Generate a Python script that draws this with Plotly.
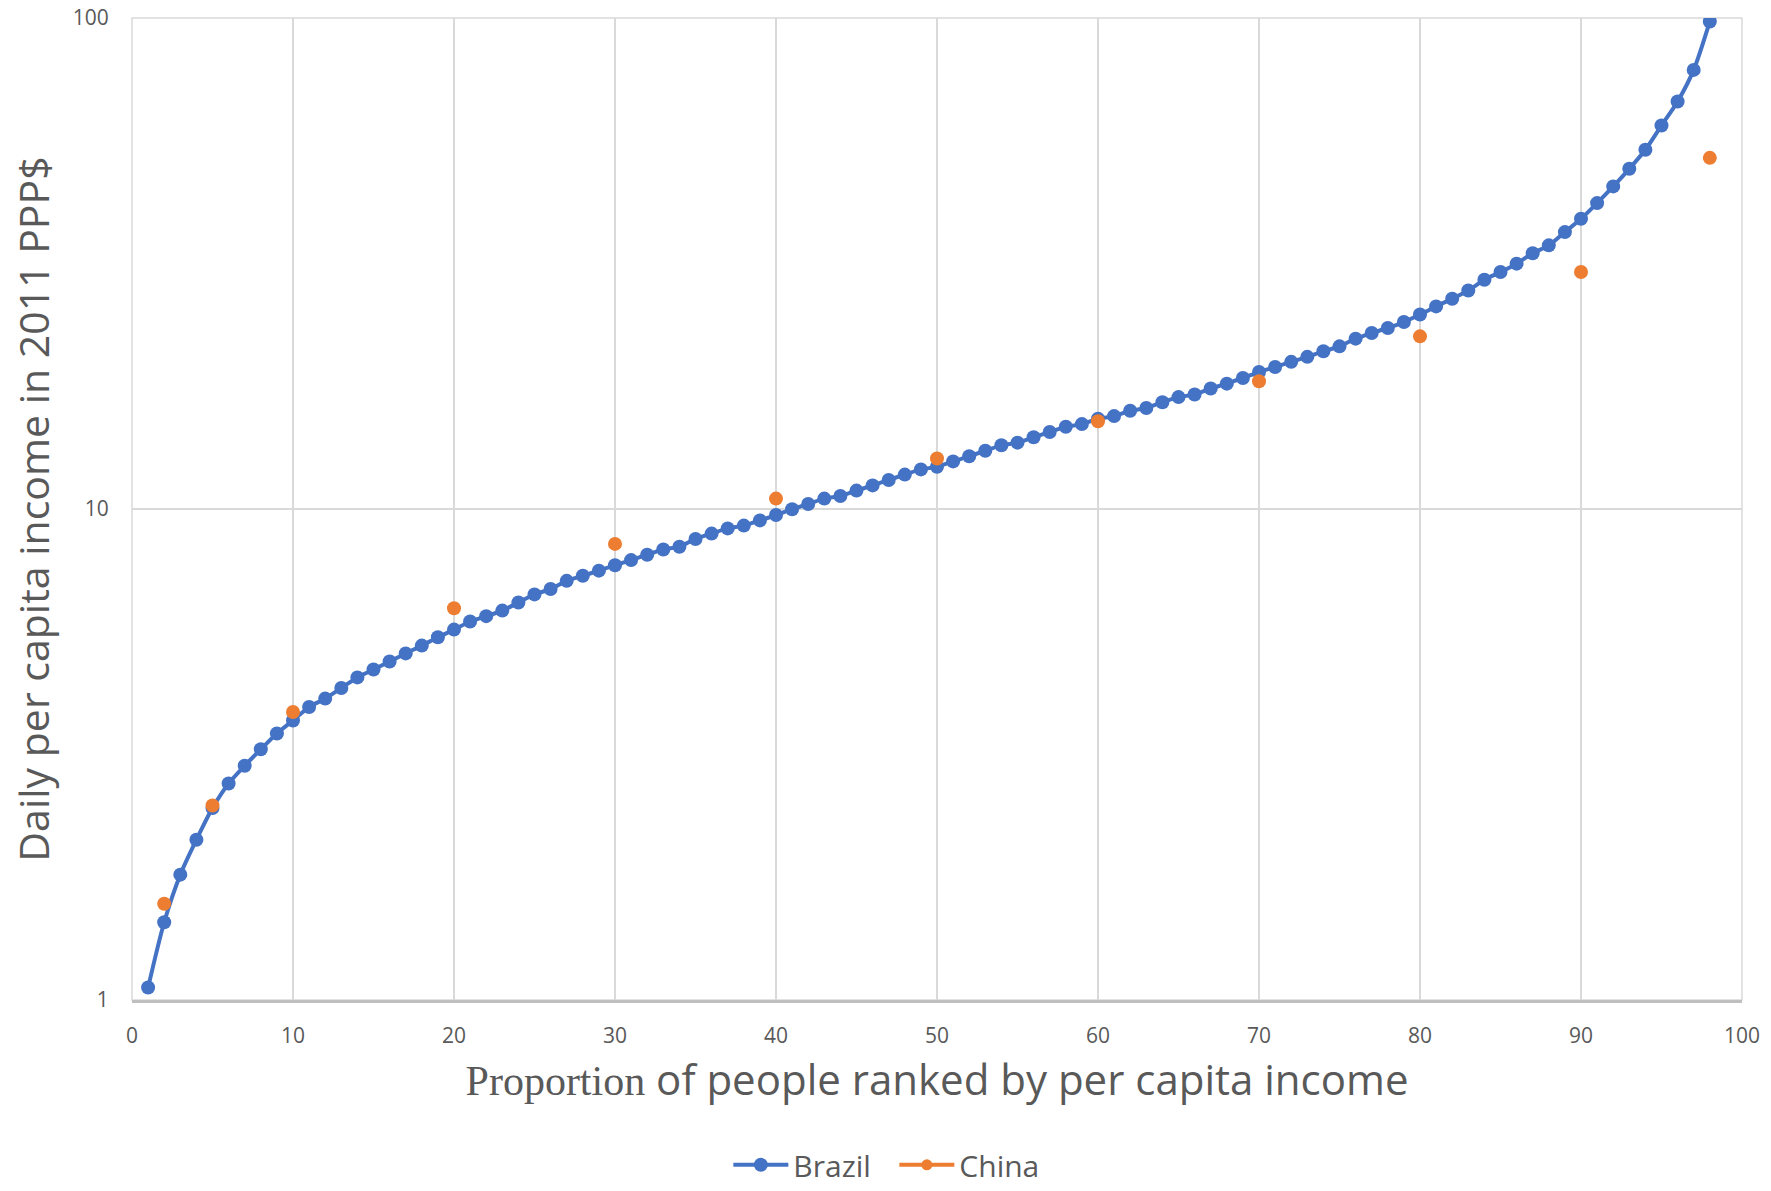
import plotly.graph_objects as go

# Percentile rank of people ordered by per-capita income
brazil_rank = list(range(1, 99))
# Daily per-capita income, 2011 PPP$, Brazil
brazil_income = [
    1.06, 1.44, 1.80, 2.12, 2.46, 2.76, 3.00, 3.24, 3.49, 3.71,
    3.95, 4.11, 4.32, 4.54, 4.71, 4.89, 5.08, 5.27, 5.48, 5.68,
    5.90, 6.05, 6.21, 6.45, 6.70, 6.87, 7.14, 7.31, 7.49, 7.68,
    7.87, 8.07, 8.27, 8.38, 8.69, 8.91, 9.13, 9.25, 9.48, 9.72,
    9.99, 10.24, 10.50, 10.63, 10.90, 11.17, 11.46, 11.75, 12.04, 12.19,
    12.50, 12.81, 13.14, 13.48, 13.65, 14.00, 14.35, 14.71, 14.89, 15.27,
    15.46, 15.85, 16.06, 16.50, 16.90, 17.11, 17.59, 18.00, 18.49, 19.01,
    19.46, 19.94, 20.41, 20.95, 21.44, 22.23, 22.82, 23.37, 24.03, 24.89,
    25.86, 26.81, 27.87, 29.30, 30.38, 31.60, 33.19, 34.43, 36.64, 39.00,
    41.98, 45.40, 49.30, 53.90, 60.40, 67.60, 78.40, 98.40,
]

china_rank = [2, 5, 10, 20, 30, 40, 50, 60, 70, 80, 90, 98]
china_income = [1.57, 2.49, 3.86, 6.28, 8.49, 10.50, 12.67, 15.09, 18.2, 22.47, 30.38, 51.9]

x_ticks = [0, 10, 20, 30, 40, 50, 60, 70, 80, 90, 100]
y_ticks = [1, 10, 100]

BLUE = "#4472C4"
ORANGE = "#ED7D31"
TEXT = "#595959"
GRID = "#D9D9D9"
FONT = "Open Sans"

fig = go.Figure()

fig.add_trace(go.Scatter(
    x=brazil_rank, y=brazil_income, name="Brazil",
    mode="lines+markers",
    line=dict(color=BLUE, width=4, shape="spline", smoothing=0.8),
    marker=dict(color=BLUE, size=14),
))

# China is plotted as points only; its legend entry shows line + marker
fig.add_trace(go.Scatter(
    x=china_rank, y=china_income, name="China",
    mode="markers", marker=dict(color=ORANGE, size=14),
    showlegend=False, legendgroup="china",
))
fig.add_trace(go.Scatter(
    x=[None], y=[None], name="China",
    mode="lines+markers",
    line=dict(color=ORANGE, width=4),
    marker=dict(color=ORANGE, size=11),
    legendgroup="china",
))

fig.update_layout(
    width=1771, height=1191,
    margin=dict(l=132, r=29, t=18, b=191, autoexpand=False),
    paper_bgcolor="white", plot_bgcolor="white",
    font=dict(family=FONT, color=TEXT),
    showlegend=True,
    legend=dict(
        orientation="h", xref="container", yref="container",
        x=0.505, xanchor="center", y=0.022, yanchor="middle",
        font=dict(size=30, color=TEXT, family=FONT),
        itemwidth=55, tracegroupgap=0, entrywidth=96,
    ),
)

fig.update_xaxes(
    range=[0, 100], tickvals=x_ticks, ticktext=[str(v) for v in x_ticks],
    showgrid=True, gridcolor=GRID, gridwidth=1.5,
    showline=True, linecolor="#BFBFBF", linewidth=2.5,
    zeroline=False,
    ticks="outside", ticklen=15, tickcolor="rgba(0,0,0,0)",
    tickfont=dict(size=21, color=TEXT, family=FONT),
    title=dict(
        text="<span style=\"font-family:'Liberation Serif'\">Proportion</span> of people ranked by per capita income",
        font=dict(size=42, color=TEXT, family=FONT),
        standoff=18,
    ),
)

fig.update_yaxes(
    type="log", range=[0, 2], tickvals=y_ticks, ticktext=[str(v) for v in y_ticks],
    showgrid=True, gridcolor=GRID, gridwidth=1.5,
    showline=False, zeroline=False,
    ticks="outside", ticklen=18, tickcolor="rgba(0,0,0,0)",
    tickfont=dict(size=21, color=TEXT, family=FONT),
    title=dict(
        text="Daily per capita income in 2011 PPP$",
        font=dict(size=41, color=TEXT, family=FONT),
        standoff=10,
    ),
)

# light frame on the left/top/right edges like the gridlines
fig.add_shape(type="rect", xref="paper", yref="paper", x0=0, y0=0, x1=1, y1=1,
              line=dict(color=GRID, width=1.5), layer="below")

fig.write_html("out.html")
